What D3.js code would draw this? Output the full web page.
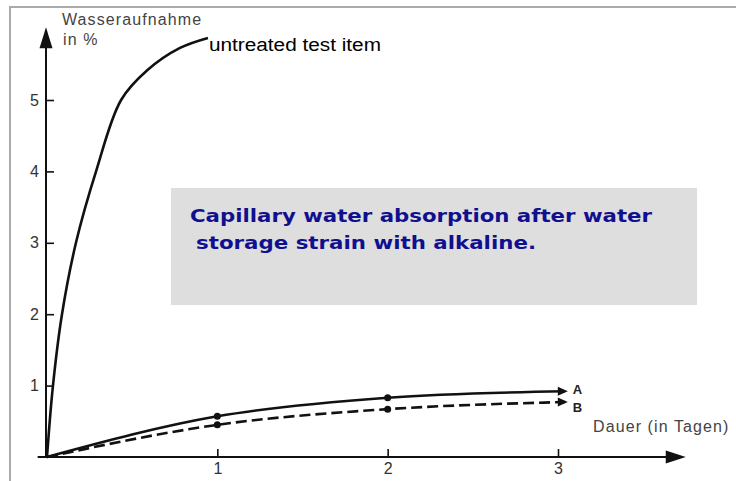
<!DOCTYPE html>
<html>
<head>
<meta charset='utf-8'>
<style>
body { margin: 0; background: #fff; }
svg { display: block; }
.tick text { font-family: 'Liberation Sans', Arial, sans-serif; font-size: 16px; fill: #333; }
.tick line { stroke: #111; stroke-width: 1.6px; }
.axislabel { font-family: 'Liberation Sans', Arial, sans-serif; font-size: 16px; fill: #444; letter-spacing: 1.1px; }
.curve { fill: none; stroke: #111; stroke-width: 2.6px; }
</style>
<script src='https://cdnjs.cloudflare.com/ajax/libs/d3/7.8.5/d3.min.js'></script>
</head>
<body>
<svg id='chart1' width='736' height='481'></svg>
<script>
// days of storage vs water uptake in %
var untreatedDays = [0, 0.035, 0.088, 0.17, 0.288, 0.435, 0.59, 0.781, 0.945];
var untreatedVals = [0, 1.0, 2.0, 3.0, 4.0, 5.0, 5.42, 5.73, 5.87];

var seriesDays = [0, 1, 2, 3.04];
var seriesA = [0, 0.57, 0.83, 0.92];
var seriesB = [0, 0.45, 0.67, 0.77];
var seriesNames = ['A', 'B'];

var yTicks = [1, 2, 3, 4, 5];
var xTicks = [1, 2, 3];
var yAxisLabel = ['Wasseraufnahme', 'in %'];
var xAxisLabel = 'Dauer (in Tagen)';
var untreatedLabel = 'untreated test item';
var boxLines = ['Capillary water absorption after water', 'storage strain with alkaline.'];

var chart1 = d3.select('svg');

var x = d3.scaleLinear().domain([0, 3]).range([47, 558]);
var y = d3.scaleLinear().domain([0, 5]).range([457, 100]);

// frame
chart1.append('path')
    .attr('d', 'M10,481 V7 H736')
    .attr('fill', 'none')
    .attr('stroke', '#aaa')
    .attr('stroke-width', 2);

// note box
chart1.append('rect')
    .attr('x', 171).attr('y', 188)
    .attr('width', 526).attr('height', 117)
    .attr('fill', '#dedede');

chart1.selectAll('.boxline')
    .data(boxLines)
  .enter().append('text')
    .attr('class', 'boxline')
    .attr('x', function(d, i) { return i === 0 ? 190 : 196; })
    .attr('y', function(d, i) { return 222 + i * 27; })
    .attr('font-family', 'DejaVu Sans, Verdana, sans-serif')
    .attr('font-weight', 'bold')
    .attr('font-size', 18)
    .attr('textLength', function(d, i) { return i === 0 ? 462 : 340; })
    .attr('lengthAdjust', 'spacingAndGlyphs')
    .attr('fill', '#10108f')
    .text(function(d) { return d; });

// axes
var yAxis = chart1.append('g')
    .attr('transform', 'translate(' + x(0) + ',0)')
    .call(d3.axisLeft(y).tickValues(yTicks).tickSize(-7).tickPadding(8).tickFormat(d3.format('d')));
yAxis.select('.domain').remove();

var xAxis = chart1.append('g')
    .attr('transform', 'translate(0,' + y(0) + ')')
    .call(d3.axisBottom(x).tickValues(xTicks).tickSize(-8).tickPadding(6).tickFormat(d3.format('d')));
xAxis.select('.domain').remove();

var axisStroke = '#111';
chart1.append('line')
    .attr('x1', x(0) - 1).attr('x2', x(0) - 1)
    .attr('y1', y(0)).attr('y2', y(5.9))
    .attr('stroke', axisStroke).attr('stroke-width', 2);
chart1.append('path')
    .attr('d', 'M' + (x(0) - 1) + ',' + y(6.02) + ' l-6.5,21 h13 z')
    .attr('fill', axisStroke);

chart1.append('line')
    .attr('x1', x(-0.055)).attr('x2', x(3.65))
    .attr('y1', y(0)).attr('y2', y(0))
    .attr('stroke', axisStroke).attr('stroke-width', 2);
chart1.append('path')
    .attr('d', 'M' + x(3.75) + ',' + y(0) + ' l-20,-6.5 v13 z')
    .attr('fill', axisStroke);

chart1.append('text')
    .attr('class', 'axislabel')
    .attr('x', 62).attr('y', 25)
    .text(yAxisLabel[0]);
chart1.append('text')
    .attr('class', 'axislabel')
    .attr('x', 63).attr('y', 45)
    .text(yAxisLabel[1]);
chart1.append('text')
    .attr('class', 'axislabel')
    .attr('x', 593).attr('y', 432)
    .text(xAxisLabel);

// curves
var line = d3.line()
    .x(function(d) { return x(d[0]); })
    .y(function(d) { return y(d[1]); })
    .curve(d3.curveMonotoneX);

var smooth = d3.line()
    .x(function(d) { return x(d[0]); })
    .y(function(d) { return y(d[1]); })
    .curve(d3.curveCatmullRom.alpha(0.5));

chart1.append('path')
    .datum(d3.zip(untreatedDays, untreatedVals))
    .attr('class', 'curve')
    .attr('stroke-width', 2.8)
    .attr('d', smooth);

chart1.append('text')
    .attr('x', x(untreatedDays[untreatedDays.length - 1]) + 1)
    .attr('y', y(untreatedVals[untreatedVals.length - 1]) + 13)
    .attr('font-family', 'Liberation Sans, Arial, sans-serif')
    .attr('font-size', 18)
    .attr('textLength', 172)
    .attr('lengthAdjust', 'spacingAndGlyphs')
    .attr('fill', '#000')
    .text(untreatedLabel);

var series = [seriesA, seriesB];
series.forEach(function(vals, i) {
  var pts = d3.zip(seriesDays, vals);
  chart1.append('path')
      .datum(pts)
      .attr('class', 'curve')
      .attr('stroke-width', i === 0 ? 2.6 : 2.2)
      .attr('stroke-dasharray', i === 0 ? null : '11,5')
      .attr('d', line);

  chart1.selectAll('.dot' + i)
      .data(pts.slice(1, 3))
    .enter().append('circle')
      .attr('cx', function(d) { return x(d[0]); })
      .attr('cy', function(d) { return y(d[1]); })
      .attr('r', 3.5)
      .attr('fill', '#111');

  var last = pts[pts.length - 1];
  chart1.append('path')
      .attr('d', 'M' + (x(last[0]) + 3) + ',' + y(last[1]) + ' l-10,-4.5 v9 z')
      .attr('fill', '#111');

  chart1.append('text')
      .attr('x', x(last[0]) + 8)
      .attr('y', y(last[1]) + (i === 0 ? 3 : 10))
      .attr('font-family', 'Liberation Sans, Arial, sans-serif')
      .attr('font-weight', 'bold')
      .attr('font-size', 13)
      .attr('fill', '#222')
      .text(seriesNames[i]);
});
</script>
</body>
</html>
